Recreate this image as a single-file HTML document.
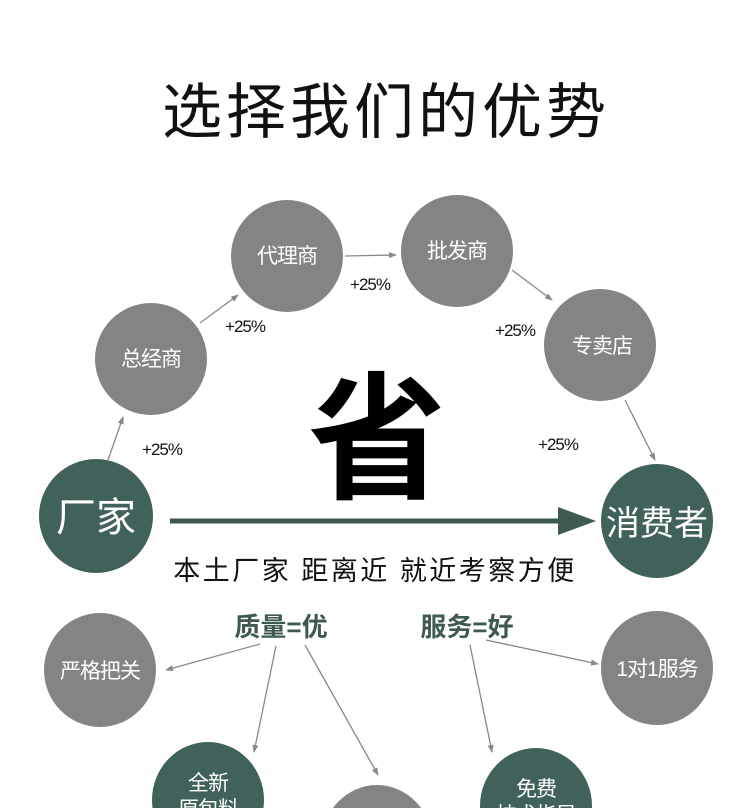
<!DOCTYPE html>
<html><head><meta charset="utf-8"><style>
html,body{margin:0;padding:0;background:#fff;width:750px;height:808px;overflow:hidden;}
svg{display:block;}
text{font-family:"Liberation Sans","Noto Sans CJK SC",sans-serif;}
</style></head><body>
<svg width="750" height="808" viewBox="0 0 750 808" xmlns="http://www.w3.org/2000/svg">
<defs>
<marker id="a" markerWidth="8" markerHeight="8" refX="7" refY="4" orient="auto" markerUnits="userSpaceOnUse"><path d="M0,1 L8,4 L0,7 z" fill="#888"/></marker>
</defs>
<text x="386" y="133" font-size="60" text-anchor="middle" fill="#111" letter-spacing="4">选择我们的优势</text>

<g fill="#858483">
<ellipse cx="287" cy="256" rx="56" ry="56"/>
<ellipse cx="457" cy="251" rx="56" ry="56"/>
<ellipse cx="151" cy="359" rx="56" ry="56"/>
<ellipse cx="600" cy="345" rx="56" ry="56"/>
<ellipse cx="100" cy="670" rx="56" ry="57"/>
<ellipse cx="657" cy="668" rx="56" ry="57"/>
<ellipse cx="377" cy="845" rx="56" ry="60"/>
</g>
<g fill="#41625a">
<ellipse cx="96" cy="516" rx="57" ry="57"/>
<ellipse cx="657" cy="521" rx="56" ry="57"/>
<ellipse cx="208" cy="800" rx="56" ry="58"/>
<ellipse cx="536" cy="806" rx="56" ry="58"/>
</g>

<g fill="#fff" font-size="21" text-anchor="middle" letter-spacing="-1">
<text x="287" y="263">代理商</text>
<text x="457" y="258">批发商</text>
<text x="151" y="366">总经商</text>
<text x="602" y="353">专卖店</text>
<text x="100" y="678">严格把关</text>
<text x="657" y="676">1对1服务</text>
<text x="208" y="790">全新</text>
<text x="208" y="816">原包料</text>
<text x="536" y="796">免费</text>
<text x="536" y="822">技术指导</text>
<text x="96" y="531" font-size="40" letter-spacing="0">厂家</text>
<text x="657" y="535" font-size="34" letter-spacing="0">消费者</text>
</g>

<g stroke="#888" stroke-width="1.3" marker-end="url(#a)" fill="none">
<line x1="200" y1="323" x2="238" y2="295"/>
<line x1="345" y1="256" x2="396" y2="255"/>
<line x1="512" y1="270" x2="552" y2="300"/>
<line x1="108" y1="460" x2="123" y2="417"/>
<line x1="625" y1="400" x2="655" y2="460"/>
<line x1="260" y1="644" x2="166" y2="670"/>
<line x1="276" y1="646" x2="254" y2="752"/>
<line x1="305" y1="645" x2="378" y2="775"/>
<line x1="470" y1="645" x2="492" y2="752"/>
<line x1="486" y1="640" x2="598" y2="664"/>
</g>

<g font-size="17" fill="#111" text-anchor="middle" letter-spacing="-1">
<text x="245" y="332">+25%</text>
<text x="370" y="290">+25%</text>
<text x="515" y="336">+25%</text>
<text x="162" y="455">+25%</text>
<text x="558" y="450">+25%</text>
</g>

<text x="377" y="488" font-size="138" font-weight="bold" text-anchor="middle" fill="#000">省</text>

<line x1="170" y1="521" x2="562" y2="521" stroke="#3e5a52" stroke-width="5"/>
<path d="M558,507 L596,521 L558,535 z" fill="#3e5a52"/>

<text x="375" y="580" font-size="27" text-anchor="middle" fill="#111" letter-spacing="2.5">本土厂家 距离近 就近考察方便</text>
<text x="281" y="636" font-size="26" text-anchor="middle" fill="#3e5a52" font-weight="bold">质量=优</text>
<text x="467" y="636" font-size="26" text-anchor="middle" fill="#3e5a52" font-weight="bold">服务=好</text>
</svg>
</body></html>
